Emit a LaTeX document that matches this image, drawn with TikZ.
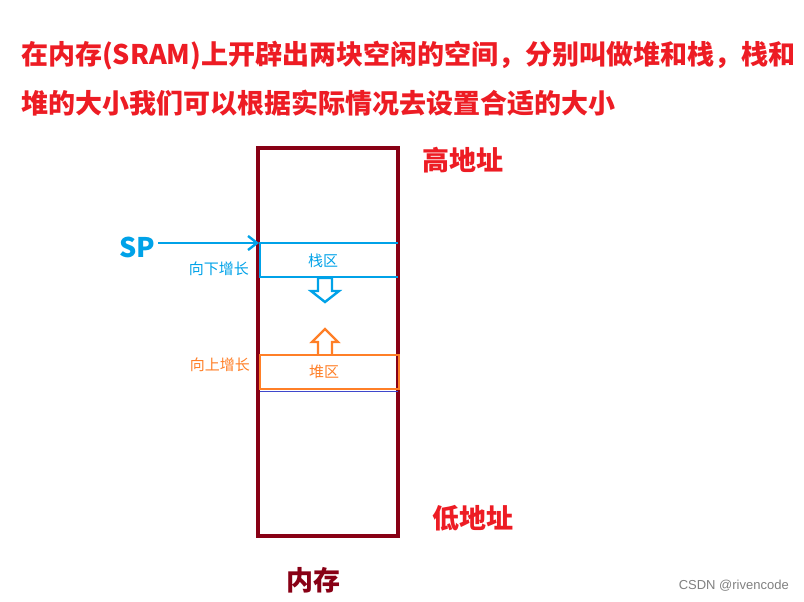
\documentclass[tikz,border=0pt]{standalone}
\usepackage{fontspec}
\usepackage{tikz}
\usetikzlibrary{arrows.meta}
\newfontfamily\cjk{Noto Sans CJK SC}
\definecolor{memred}{RGB}{136,0,21}
\definecolor{titlered}{RGB}{237,28,36}
\definecolor{stackblue}{RGB}{0,162,232}
\definecolor{heaporange}{RGB}{255,127,39}
\definecolor{lineindigo}{RGB}{63,72,204}

\begin{document}
\begin{tikzpicture}[x=1pt,y=-1pt]
% Text styles
\tikzset{
    big/.style={font=\cjk\bfseries\fontsize{27}{30}\selectfont, inner sep=0pt},
    small/.style={font=\cjk\fontsize{15}{18}\selectfont, inner sep=0pt}
}
\useasboundingbox (0,0) rectangle (804,602);

% Title
\node[big, text=titlered, anchor=west] (line1) at (21,56){在内存(SRAM)上开辟出两块空闲的空间，分别叫做堆和栈，栈和};
\node[big, text=titlered, anchor=west] (line2) at (21,103){堆的大小我们可以根据实际情况去设置合适的大小};

% Memory
\draw[memred, line width=3.2pt] (258,148) rectangle (398,536);
\node[big, text=memred, anchor=center] (mem) at (313,580){内存};
\node[big, text=titlered, anchor=west] (high) at (422,160){高地址};
\node[big, text=titlered, anchor=west] (low) at (432,518){低地址};

% Stack
\draw[stackblue, line width=2.4pt] (398,243) -- (260,243) -- (260,277) -- (398,277);
\node[small, text=stackblue] (stack) at (323,261){栈区};
\draw[stackblue, line width=2.4pt] (318,278) -- (318,291) -- (311,291) -- (325,302)
    -- (339,291) -- (332,291) -- (332,278) -- cycle;
\node[big, text=stackblue, anchor=west] (sp) at (119,247){SP};
\coordinate (spin) at (259,243);
\draw[stackblue, line width=2.4pt, -{Straight Barb[length=9pt,width=14pt]}] (sp.east) ++(3,-4) coordinate (spout) -- (spin);
\node[small, text=stackblue, anchor=east] (down) at (249,269){向下增长};

% Heap
\draw[heaporange, line width=2.4pt] (260,355) rectangle (399,389);
\node[small, text=heaporange] (heap) at (324,372){堆区};
\draw[heaporange, line width=2.4pt] (318,355) -- (318,342) -- (312,342) -- (325,329)
    -- (338,342) -- (332,342) -- (332,355);
\node[small, text=heaporange, anchor=east] (up) at (250,365){向上增长};
\draw[lineindigo, line width=1pt] (260,391) -- (398,391);

% Watermark
\node[font=\fontspec{Liberation Sans}\fontsize{13}{15}\selectfont, text=gray, anchor=east, inner sep=0pt] (mark) at (789,586){CSDN @rivencode};
\end{tikzpicture}
\end{document}
